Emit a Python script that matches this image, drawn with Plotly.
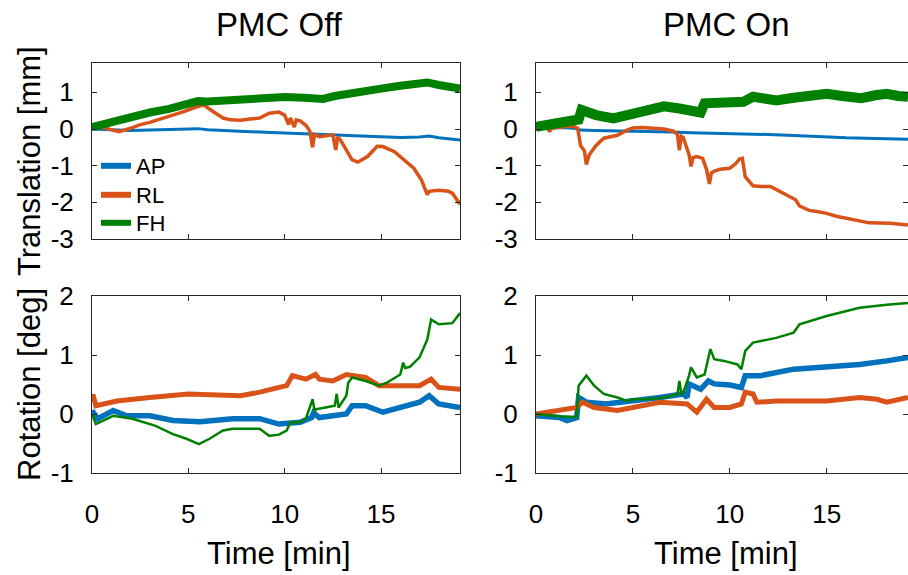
import plotly.graph_objects as go

# ---------------- data ----------------
# Top-left: Translation, PMC Off
ap_tr_off_t = [0, 1, 2, 3, 4, 5, 5.5, 6, 7, 8, 9, 10, 11, 12, 13, 14, 15, 16, 17, 17.5, 18, 18.5, 19.1]
ap_tr_off_v = [0, -0.03, -0.04, -0.03, -0.02, 0.0, 0.01, -0.02, -0.05, -0.07, -0.09, -0.11, -0.13, -0.15,
               -0.18, -0.2, -0.22, -0.23, -0.22, -0.19, -0.24, -0.27, -0.3]
rl_tr_off_t = [0, 0.3, 0.8, 1.4, 2.0, 2.5, 3.0, 3.6, 4.2, 4.8, 5.4, 5.8, 6.3, 6.8, 7.2, 7.7, 8.2, 8.7, 9.2,
               9.7, 10.0, 10.2, 10.3, 10.5, 10.6, 10.8, 11.1, 11.3, 11.45, 11.55, 11.8, 12.2, 12.5, 12.65,
               12.75, 12.9, 13.2, 13.5, 13.8, 14.3, 14.8, 15.1, 15.7, 16.2, 16.7, 17.1, 17.4, 17.5, 18.0,
               18.5, 18.7, 19.1]
rl_tr_off_v = [0.12, 0.08, 0.0, -0.07, 0.02, 0.12, 0.18, 0.28, 0.36, 0.48, 0.6, 0.65, 0.47, 0.3, 0.25, 0.24,
               0.27, 0.3, 0.43, 0.46, 0.38, 0.12, 0.3, 0.05, 0.25, 0.22, 0.1, -0.05, -0.5, -0.15, -0.21,
               -0.17, -0.16, -0.57, -0.22, -0.3, -0.55, -0.84, -0.9, -0.75, -0.47, -0.48, -0.62, -0.84,
               -1.07, -1.39, -1.79, -1.7, -1.67, -1.7, -1.75, -2.05]
fh_tr_off_t = [0, 0.5, 1, 2, 3, 4, 5, 5.5, 6, 7, 8, 9, 10, 11, 12, 12.6, 13.3, 14.3, 15, 16, 16.8, 17.4,
               18, 18.5, 19.1]
fh_tr_off_v = [0.05, 0.12, 0.2, 0.35, 0.45, 0.55, 0.72, 0.76, 0.75, 0.78, 0.82, 0.86, 0.87, 0.85, 0.82,
               0.9, 0.97, 1.05, 1.1, 1.18, 1.25, 1.27, 1.2, 1.17, 1.1]

# Top-right: Translation, PMC On
ap_tr_on_t = [0, 0.6, 1.2, 2.0, 2.3, 3, 4, 5, 6, 7, 8, 9, 10, 11, 12, 13, 14, 15, 16, 17, 18, 19.2]
ap_tr_on_v = [0, 0.03, 0.04, 0.02, -0.03, -0.04, -0.05, -0.05, -0.07, -0.08, -0.1, -0.11, -0.12, -0.13,
              -0.15, -0.17, -0.2, -0.23, -0.24, -0.25, -0.26, -0.28]
rl_tr_on_t = [0, 0.6, 0.7, 0.8, 1.2, 1.9, 2.15, 2.3, 2.5, 2.6, 2.75, 2.9, 3.1, 3.5, 3.8, 4.2, 4.7, 5.0, 5.5,
              6.0, 6.6, 7.1, 7.3, 7.4, 7.5, 7.6, 7.9, 8.0, 8.1, 8.3, 8.6, 8.8, 8.95, 9.05, 9.2, 9.5, 10.0,
              10.3, 10.5, 10.65, 10.8, 11.2, 11.6, 12.1, 12.9, 13.4, 13.6, 14.1, 14.5, 15.0, 15.5, 16.4,
              17.2, 18.3, 19.2]
rl_tr_on_v = [0.02, 0.03, -0.07, 0.02, 0.05, 0.08, 0.02, -0.45, -0.6, -0.97, -0.7, -0.6, -0.45, -0.25,
              -0.21, -0.17, -0.03, 0.03, 0.04, 0.03, 0.0, -0.06, -0.15, -0.58, -0.2, -0.23, -0.7, -1.02,
              -0.78, -0.75, -0.8, -1.1, -1.5, -1.2, -1.15, -1.1, -1.07, -0.95, -0.82, -0.8, -1.3, -1.55,
              -1.57, -1.57, -1.79, -1.93, -2.1, -2.22, -2.25, -2.3, -2.38, -2.47, -2.56, -2.57, -2.62]
fh_tr_on_t = [0, 0.7, 1.4, 2.2, 2.35, 2.6, 3.1, 4.0, 4.7, 5.4, 6.1, 6.6, 7.4, 8.0, 8.5, 8.7, 9.5, 10.0,
              10.7, 11.2, 12.4, 13.3, 14.2, 15.0, 15.8, 16.8, 17.5, 18.1, 18.7, 19.2]
fh_tr_on_v = [0.06, 0.11, 0.22, 0.26, 0.52, 0.45, 0.38, 0.29, 0.38, 0.52, 0.62, 0.62, 0.56, 0.5, 0.45,
              0.7, 0.7, 0.7, 0.74, 0.88, 0.78, 0.85, 0.9, 0.96, 0.9, 0.84, 0.92, 0.96, 0.9, 0.88]

# Bottom-left: Rotation, PMC Off
ap_rot_off_t = [0, 0.3, 1.1, 1.8, 3.0, 4.2, 5.6, 7.3, 8.7, 9.7, 10.8, 11.4, 11.5, 11.8, 12.5, 13.2, 13.5,
                14.2, 15.1, 16.0, 17.0, 17.5, 18.0, 19.1]
ap_rot_off_v = [0.06, -0.08, 0.06, -0.03, -0.03, -0.11, -0.13, -0.08, -0.08, -0.17, -0.14, -0.06, 0.02,
                -0.06, -0.03, 0.0, 0.14, 0.14, 0.03, 0.11, 0.2, 0.31, 0.17, 0.11]
rl_rot_off_t = [0, 0.05, 0.2, 1.3, 3.0, 5.0, 6.5, 7.7, 8.7, 9.6, 10.1, 10.4, 11.1, 11.6, 11.8, 12.5, 13.2,
                14.2, 14.9, 16.0, 17.0, 17.6, 18.0, 19.1]
rl_rot_off_v = [0.2, 0.33, 0.14, 0.22, 0.28, 0.34, 0.32, 0.31, 0.37, 0.45, 0.48, 0.65, 0.59, 0.67, 0.59,
                0.56, 0.67, 0.62, 0.48, 0.48, 0.48, 0.59, 0.45, 0.42]
fh_rot_off_t = [0, 0.2, 1.1, 2.1, 3.3, 4.2, 4.9, 5.55, 6.1, 6.8, 7.3, 8.7, 9.2, 9.7, 10.1, 10.3, 10.8,
                11.1, 11.45, 11.55, 11.65, 12.2, 12.6, 12.7, 12.8, 13.2, 13.3, 13.5, 14.2, 14.9, 15.3,
                16.0, 16.15, 16.25, 16.5, 17.0, 17.4, 17.6, 18.0, 18.7, 19.1]
fh_rot_off_v = [0.0, -0.17, -0.03, -0.08, -0.2, -0.34, -0.42, -0.51, -0.42, -0.28, -0.25, -0.25, -0.37,
                -0.35, -0.28, -0.14, -0.14, -0.08, 0.25, 0.06, 0.08, 0.11, 0.14, 0.34, 0.11, 0.31, 0.53,
                0.62, 0.56, 0.48, 0.53, 0.67, 0.87, 0.78, 0.8, 0.96, 1.26, 1.6, 1.52, 1.54, 1.71]

# Bottom-right: Rotation, PMC On
ap_rot_on_t = [0, 1.2, 1.6, 2.1, 2.2, 2.6, 3.6, 5.0, 6.4, 7.6, 7.8, 7.9, 8.5, 8.9, 9.2, 10.0, 10.6, 10.8,
               11.6, 13.3, 15.0, 16.7, 18.1, 19.2]
ap_rot_on_v = [-0.03, -0.06, -0.11, -0.06, 0.28, 0.2, 0.17, 0.22, 0.28, 0.34, 0.28, 0.51, 0.42, 0.56,
               0.51, 0.49, 0.45, 0.65, 0.65, 0.76, 0.79, 0.84, 0.9, 0.96]
rl_rot_on_t = [0, 1.2, 2.1, 2.4, 3.0, 4.2, 5.0, 6.4, 7.8, 8.3, 8.8, 9.2, 10.0, 10.6, 10.8, 11.2, 11.4,
               12.4, 15.0, 16.7, 17.6, 18.1, 19.2]
rl_rot_on_v = [0.0, 0.06, 0.11, 0.2, 0.11, 0.06, 0.11, 0.2, 0.17, 0.03, 0.25, 0.11, 0.11, 0.17, 0.37,
               0.34, 0.2, 0.22, 0.22, 0.28, 0.25, 0.2, 0.28]
fh_rot_on_t = [0, 1.2, 2.1, 2.2, 2.6, 3.0, 3.5, 4.2, 4.7, 5.0, 5.6, 6.7, 7.3, 7.4, 7.5, 7.6, 7.9, 8.0,
               8.3, 8.7, 9.0, 9.2, 9.7, 10.4, 10.6, 10.8, 11.2, 12.4, 13.3, 13.6, 15.0, 16.7, 18.1, 19.2]
fh_rot_on_v = [0.0, -0.04, -0.05, 0.48, 0.65, 0.48, 0.34, 0.28, 0.22, 0.25, 0.25, 0.28, 0.34, 0.56, 0.34,
               0.36, 0.65, 0.79, 0.62, 0.67, 1.1, 0.93, 0.9, 0.84, 0.76, 1.07, 1.21, 1.29, 1.38, 1.52,
               1.66, 1.8, 1.85, 1.88]

series_names = ["AP", "RL", "FH"]
col_titles = ["PMC Off", "PMC On"]
row_titles = ["Translation [mm]", "Rotation [deg]"]
x_ticks = [0, 5, 10, 15]
x_ticktext = ["0", "5", "10", "15"]
y_ticks_tr = [-3, -2, -1, 0, 1]
y_ticktext_tr = ["-3", "-2", "-1", "0", "1"]
y_ticks_rot = [-1, 0, 1, 2]
y_ticktext_rot = ["-1", "0", "1", "2"]

# ---------------- styling ----------------
W, H = 908, 575
colors = {"AP": "#0072BD", "RL": "#D95319", "FH": "#008000"}
FONT = "Liberation Sans, Arial, Helvetica, sans-serif"
AXC = "#262626"
TICK_SIZE = 26
TITLE_SIZE = 33
LABEL_SIZE = 31
LEG_SIZE = 22

# pixel boxes: (left, right, top, bottom)
boxes = {
    (0, 0): (92, 460, 63, 239),
    (0, 1): (536, 908, 63, 239),
    (1, 0): (92, 460, 296, 473),
    (1, 1): (536, 908, 296, 473),
}
xmax = {0: 19.1, 1: 19.2}

panels = {
    (0, 0): [(ap_tr_off_t, ap_tr_off_v, "AP", 3), (rl_tr_off_t, rl_tr_off_v, "RL", 3.5),
             (fh_tr_off_t, fh_tr_off_v, "FH", 8)],
    (0, 1): [(ap_tr_on_t, ap_tr_on_v, "AP", 3), (rl_tr_on_t, rl_tr_on_v, "RL", 3.5),
             (fh_tr_on_t, fh_tr_on_v, "FH", 10)],
    (1, 0): [(ap_rot_off_t, ap_rot_off_v, "AP", 5.5), (rl_rot_off_t, rl_rot_off_v, "RL", 5),
             (fh_rot_off_t, fh_rot_off_v, "FH", 2.5)],
    (1, 1): [(ap_rot_on_t, ap_rot_on_v, "AP", 5.5), (rl_rot_on_t, rl_rot_on_v, "RL", 5),
             (fh_rot_on_t, fh_rot_on_v, "FH", 2.5)],
}

fig = go.Figure()
layout = {}
idx = 0
for (r, c), traces in panels.items():
    idx += 1
    xa = "x" if idx == 1 else f"x{idx}"
    ya = "y" if idx == 1 else f"y{idx}"
    L, R, T, B = boxes[(r, c)]
    for t, v, name, w in traces:
        fig.add_trace(go.Scatter(x=t, y=v, mode="lines", name=name, showlegend=False,
                                 line=dict(color=colors[name], width=w),
                                 xaxis=xa, yaxis=ya, hoverinfo="skip"))
    common = dict(showline=True, linecolor=AXC, linewidth=1, mirror="ticks", ticks="inside",
                  ticklen=5, tickcolor=AXC, showgrid=False, zeroline=False, automargin=False,
                  tickfont=dict(family=FONT, size=TICK_SIZE, color="#000000"))
    layout["xaxis" if idx == 1 else f"xaxis{idx}"] = dict(
        domain=[L / W, R / W], range=[0, xmax[c]], tickmode="array",
        tickvals=x_ticks, ticktext=x_ticktext,
        showticklabels=(r == 1), anchor=ya, ticklabelstandoff=18, **common)
    layout["yaxis" if idx == 1 else f"yaxis{idx}"] = dict(
        domain=[1 - B / H, 1 - T / H],
        range=[-3, 1.8] if r == 0 else [-1, 2], tickmode="array",
        tickvals=y_ticks_tr if r == 0 else y_ticks_rot,
        ticktext=y_ticktext_tr if r == 0 else y_ticktext_rot,
        anchor=xa, ticklabelstandoff=12, **common)

# legend-only entries, one legend box per entry so each row can be placed exactly
legend_rows = [166, 195, 223]
legend_ids = ["legend", "legend2", "legend3"]
for name, lid, yc in zip(series_names, legend_ids, legend_rows):
    fig.add_trace(go.Scatter(x=[None], y=[None], mode="lines", name=name, legend=lid,
                             line=dict(color=colors[name], width=6), xaxis="x", yaxis="y"))
    layout[lid] = dict(x=96 / W, y=1 - yc / H, xanchor="left", yanchor="middle",
                       bgcolor="rgba(0,0,0,0)", borderwidth=0,
                       font=dict(family=FONT, size=LEG_SIZE, color="#000000"), itemwidth=30)

annotations = []
for c, title in enumerate(col_titles):
    L, R, T, B = boxes[(0, c)]
    cx = (L + R) / 2 + 3 if c == 0 else (L + 908) / 2 + 4
    annotations.append(dict(text=title, x=cx / W, y=1 - 25 / H, xref="paper", yref="paper",
                            showarrow=False, font=dict(family=FONT, size=TITLE_SIZE, color="#000000"),
                            xanchor="center", yanchor="middle"))
row_centers = [161, 385]
for r, title in enumerate(row_titles):
    annotations.append(dict(text=title, x=29 / W, y=1 - row_centers[r] / H, xref="paper", yref="paper",
                            showarrow=False, textangle=-90,
                            font=dict(family=FONT, size=LABEL_SIZE, color="#000000"),
                            xanchor="center", yanchor="middle"))
for c in range(2):
    L, R, T, B = boxes[(1, c)]
    cx = (L + R) / 2 + 3 if c == 0 else (L + 908) / 2 + 4
    annotations.append(dict(text="Time [min]", x=cx / W, y=1 - 553 / H, xref="paper", yref="paper",
                            showarrow=False, font=dict(family=FONT, size=LABEL_SIZE, color="#000000"),
                            xanchor="center", yanchor="middle"))

fig.update_layout(
    width=W, height=H, margin=dict(l=0, r=0, t=0, b=0, autoexpand=False),
    paper_bgcolor="white", plot_bgcolor="white",
    font=dict(family=FONT, size=TICK_SIZE, color="#000000"),
    showlegend=True,
    annotations=annotations,
    **layout,
)

fig.write_html("out.html")
